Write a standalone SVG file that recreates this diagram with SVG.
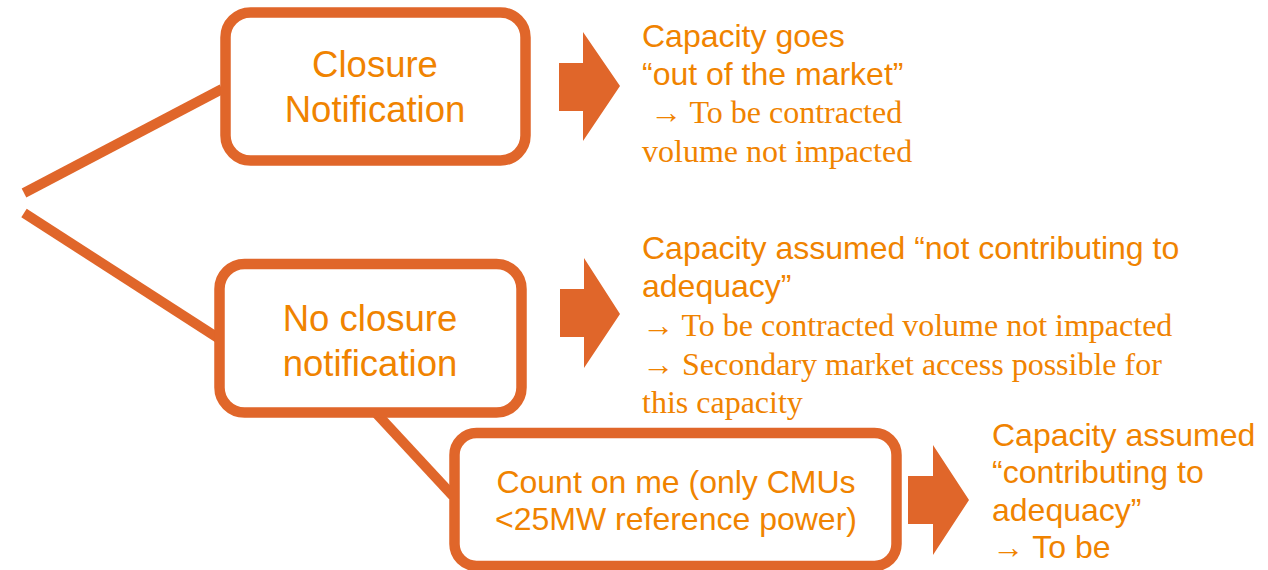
<svg xmlns="http://www.w3.org/2000/svg" width="1268" height="570" viewBox="0 0 1268 570">
<style>
.box{fill:#fff;stroke:#E0662A;stroke-width:10.5}
.conn{stroke:#E0662A;stroke-width:10;fill:none}
.barrow{fill:#E0662A}
.t{fill:#F08300;font-family:"Liberation Sans",Arial,sans-serif}
.big{font-size:36.5px}
.mid{font-size:32px}
.serif{font-family:"Liberation Serif","Times New Roman",serif;font-size:32px}
.c{text-anchor:middle}
</style>
<rect width="1268" height="570" fill="#fff"/>
<g id="connectors">
<line class="conn" x1="24" y1="193" x2="222" y2="89"/>
<line class="conn" x1="24" y1="213" x2="218" y2="338"/>
<line class="conn" x1="376" y1="413" x2="453" y2="496"/>
</g>
<g id="node-closure">
<rect class="box" x="225.5" y="12.5" width="300" height="148" rx="25"/>
<text class="t big c" x="375" y="77">Closure</text>
<text class="t big c" x="375" y="122">Notification</text>
</g>
<g id="node-no-closure">
<rect class="box" x="219.5" y="264" width="302" height="148.5" rx="25"/>
<text class="t big c" x="370" y="331">No closure</text>
<text class="t big c" x="370" y="376">notification</text>
</g>
<g id="node-count-on-me">
<rect class="box" x="454.5" y="433" width="442" height="133" rx="22"/>
<text class="t mid c" x="676" y="493">Count on me (only CMUs</text>
<text class="t mid c" x="676" y="530">&lt;25MW reference power)</text>
</g>
<g id="arrow-1">
<polygon class="barrow" points="559,63 583,63 583,32 620,86 583,141 583,111 559,111"/>
</g>
<g id="arrow-2">
<polygon class="barrow" points="560,289 584,289 584,258 620,314 584,368 584,337 560,337"/>
</g>
<g id="arrow-3">
<polygon class="barrow" points="908,476 933,476 933,445 969,500 933,555 933,524 908,524"/>
</g>
<g id="text-1">
<text class="t mid" x="642" y="47">Capacity goes</text>
<text class="t mid" x="642" y="85">“out of the market”</text>
<text class="t serif" x="650" y="123">→ To be contracted</text>
<text class="t serif" x="642" y="162">volume not impacted</text>
</g>
<g id="text-2">
<text class="t mid" x="642" y="259">Capacity assumed “not contributing to</text>
<text class="t mid" x="642" y="297">adequacy”</text>
<text class="t serif" x="642" y="336">→ To be contracted volume not impacted</text>
<text class="t serif" x="642" y="375">→ Secondary market access possible for</text>
<text class="t serif" x="642" y="413">this capacity</text>
</g>
<g id="text-3">
<text class="t mid" x="992" y="446">Capacity assumed</text>
<text class="t mid" x="992" y="483">“contributing to</text>
<text class="t mid" x="992" y="521">adequacy”</text>
<text class="t mid" x="992" y="558">→ To be</text>
</g>
</svg>
